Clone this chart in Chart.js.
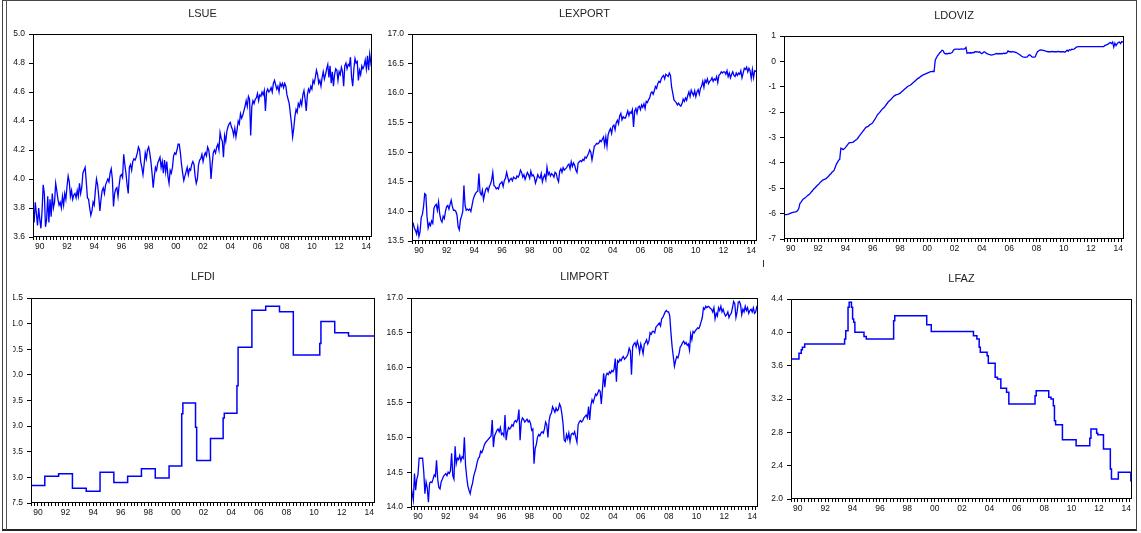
<!DOCTYPE html>
<html>
<head>
<meta charset="utf-8">
<script src="https://cdn.jsdelivr.net/npm/chart.js@4.4.1/dist/chart.umd.min.js"></script>
<style>
  body { margin: 0; background: #fff; }
  #page { position: relative; width: 1141px; height: 533px; overflow: hidden; background: #fff; }
  #page canvas { position: absolute; }
  .frame { position: absolute; left: 2px; top: 0; width: 1133px; height: 528px; border: 1px solid #444; border-bottom: 2px solid #222; }
  .inner { position: absolute; left: 6px; top: 0; width: 1px; height: 530px; background: #555; }
  .mark { position: absolute; left: 763px; top: 260px; width: 1px; height: 7px; background: #333; }
</style>
</head>
<body>
<div id="page">
  <div class="frame"></div>
  <div class="inner"></div>
  <div class="mark"></div>
  <canvas id="cLSUE"></canvas>
  <canvas id="cLEXPORT"></canvas>
  <canvas id="cLDOVIZ"></canvas>
  <canvas id="cLFDI"></canvas>
  <canvas id="cLIMPORT"></canvas>
  <canvas id="cLFAZ"></canvas>
</div>
<script>
// monthly series, 1990M01 - 2014M12
var startYear = 1990;

var lsue = [
  3.82, 3.70, 3.84, 3.76, 3.68, 3.80, 3.72, 3.66, 3.78, 3.96, 3.90, 3.67,
  3.72, 3.88, 3.70, 3.86, 3.74, 3.90, 3.80, 3.84, 3.97, 3.92, 3.86, 3.82,
  3.84, 3.80, 3.88, 3.82, 3.90, 3.86, 3.95, 4.02, 3.98, 3.88, 3.92, 3.86, 3.89,
  3.90, 3.87, 3.92, 3.88, 3.97, 3.90, 3.94, 4.04, 4.06, 4.08, 3.98, 3.87,
  3.86, 3.80, 3.75, 3.78, 3.84, 3.82, 3.92, 4.00, 3.96, 3.88, 3.78, 3.86,
  3.92, 3.94, 3.90, 3.96, 3.98, 4.00, 3.98, 4.04, 4.07, 4.00, 3.81, 3.90, 3.93,
  3.94, 3.88, 3.96, 4.02, 4.03, 4.01, 4.17, 4.10, 4.04, 3.96, 3.90, 4.08,
  4.10, 4.06, 4.12, 4.14, 4.13, 4.15, 4.18, 4.22, 4.20, 4.12, 4.08, 4.03,
  4.10, 4.18, 4.14, 4.20, 4.22, 4.18, 4.12, 4.04, 3.94, 4.02, 4.08, 4.06, 4.11,
  4.13, 4.15, 4.08, 4.12, 4.04, 4.13, 4.05, 4.12, 4.02, 3.97, 4.06, 4.04,
  4.08, 4.16, 4.18, 4.17, 4.20, 4.24, 4.24, 4.18, 4.10, 4.04, 3.99, 4.02,
  4.05, 4.08, 4.03, 4.07, 4.06, 4.10, 4.12, 4.10, 4.02, 3.97, 4.00, 4.10, 4.13,
  4.14, 4.17, 4.12, 4.16, 4.18, 4.16, 4.22, 4.20, 4.14, 4.00, 4.10, 4.18,
  4.20, 4.18, 4.22, 4.24, 4.20, 4.32, 4.28, 4.26, 4.15, 4.30, 4.26, 4.33,
  4.36, 4.38, 4.39, 4.36, 4.34, 4.30, 4.35, 4.29, 4.34, 4.40, 4.38, 4.45, 4.42,
  4.44, 4.47, 4.50, 4.54, 4.50, 4.57, 4.55, 4.30, 4.50, 4.54, 4.52, 4.55,
  4.56, 4.59, 4.54, 4.58, 4.57, 4.60, 4.58, 4.61, 4.47, 4.60, 4.62, 4.60,
  4.61, 4.63, 4.60, 4.66, 4.68, 4.65, 4.62, 4.64, 4.60, 4.66, 4.64, 4.66, 4.63,
  4.66, 4.64, 4.58, 4.55, 4.52, 4.45, 4.38, 4.29, 4.35, 4.43, 4.48, 4.46,
  4.52, 4.50, 4.54, 4.51, 4.58, 4.61, 4.55, 4.47, 4.58, 4.62, 4.60, 4.64,
  4.62, 4.68, 4.66, 4.70, 4.75, 4.72, 4.66, 4.68, 4.64, 4.70, 4.74, 4.69, 4.72,
  4.76, 4.79, 4.70, 4.78, 4.66, 4.74, 4.64, 4.72, 4.76, 4.75, 4.68, 4.74,
  4.72, 4.77, 4.74, 4.64, 4.78, 4.80, 4.76, 4.79, 4.78, 4.84, 4.70, 4.64,
  4.76, 4.83, 4.80, 4.81, 4.68, 4.75, 4.72, 4.78, 4.76, 4.78, 4.82, 4.76,
  4.85, 4.75, 4.86, 4.80, 4.84
];

var lexport = [
  13.83, 13.80, 13.72, 13.68, 13.62, 13.74, 13.58, 13.66, 13.90, 13.95, 14.08, 14.30,
  14.28, 13.92, 13.72, 13.80, 13.76, 13.84, 13.80, 14.05, 14.10, 14.12, 14.02, 14.16,
  13.96, 13.86, 13.82, 13.92, 13.88, 14.00, 14.08, 14.10, 14.04, 14.12, 14.19, 14.08, 14.02,
  14.02, 14.00, 13.94, 13.74, 13.69, 13.86, 13.92, 14.00, 14.44, 14.10, 14.02, 14.04,
  14.02, 14.04, 14.00, 14.10, 14.20, 14.26, 14.30, 14.33, 14.34, 14.64, 14.32, 14.28,
  14.36, 14.20, 14.30, 14.38, 14.40, 14.34, 14.42, 14.46, 14.53, 14.66, 14.44, 14.42, 14.38,
  14.40, 14.38, 14.46, 14.48, 14.50, 14.42, 14.52, 14.56, 14.66, 14.58, 14.50, 14.54,
  14.56, 14.52, 14.58, 14.56, 14.55, 14.60, 14.58, 14.62, 14.70, 14.66, 14.58, 14.62,
  14.54, 14.60, 14.66, 14.62, 14.56, 14.68, 14.60, 14.62, 14.58, 14.48, 14.54, 14.62, 14.58,
  14.56, 14.64, 14.50, 14.58, 14.62, 14.54, 14.75, 14.62, 14.66, 14.60, 14.64, 14.62,
  14.58, 14.66, 14.64, 14.55, 14.50, 14.68, 14.72, 14.66, 14.74, 14.70, 14.72, 14.74,
  14.78, 14.80, 14.72, 14.84, 14.76, 14.82, 14.78, 14.70, 14.66, 14.82, 14.84, 14.86, 14.84,
  14.88, 14.86, 14.92, 14.90, 14.94, 14.98, 15.04, 15.00, 14.87, 14.98, 15.10, 15.12,
  15.15, 15.14, 15.16, 15.20, 15.18, 15.22, 15.26, 15.12, 15.26, 15.10, 15.30, 15.36,
  15.40, 15.32, 15.44, 15.46, 15.38, 15.50, 15.54, 15.48, 15.62, 15.66, 15.55, 15.60, 15.58,
  15.58, 15.64, 15.70, 15.62, 15.68, 15.66, 15.72, 15.43, 15.70, 15.74, 15.66, 15.76,
  15.78, 15.72, 15.80, 15.76, 15.82, 15.74, 15.86, 15.84, 15.89, 15.92, 16.00, 16.02,
  15.98, 16.04, 16.11, 16.08, 16.16, 16.20, 16.18, 16.24, 16.28, 16.30, 16.24, 16.32, 16.30,
  16.28, 16.34, 16.30, 16.10, 16.00, 15.89, 15.86, 15.84, 15.80, 15.83, 15.80, 15.78,
  15.82, 15.90, 15.86, 15.92, 15.88, 15.96, 16.02, 15.94, 16.05, 16.00, 15.96, 16.04,
  15.94, 16.02, 16.06, 15.98, 16.08, 16.12, 16.20, 16.10, 16.22, 16.18, 16.24, 16.16, 16.20,
  16.22, 16.26, 16.20, 16.24, 16.22, 16.28, 16.18, 16.30, 16.32, 16.36, 16.34, 16.36,
  16.36, 16.32, 16.38, 16.28, 16.34, 16.26, 16.32, 16.36, 16.30, 16.28, 16.34, 16.30,
  16.34, 16.32, 16.38, 16.26, 16.34, 16.42, 16.40, 16.44, 16.36, 16.42, 16.38, 16.25,
  16.40, 16.26, 16.38, 16.37, 16.37
];

var ldoviz = [
  -6.05, -6.04, -6.04, -6.03, -6.02, -6.00, -5.98, -5.96, -5.95, -5.94, -5.93, -5.92,
  -5.88, -5.80, -5.60, -5.55, -5.48, -5.42, -5.40, -5.36, -5.32, -5.28, -5.25, -5.20,
  -5.15, -5.10, -5.04, -5.00, -4.95, -4.90, -4.86, -4.82, -4.76, -4.72, -4.68, -4.66, -4.64,
  -4.62, -4.58, -4.54, -4.48, -4.44, -4.38, -4.34, -4.30, -4.18, -4.06, -3.98, -3.90,
  -3.86, -3.42, -3.44, -3.48, -3.44, -3.40, -3.34, -3.28, -3.22, -3.20, -3.20, -3.19,
  -3.18, -3.14, -3.10, -3.08, -3.02, -2.96, -2.90, -2.84, -2.78, -2.72, -2.66, -2.60, -2.58,
  -2.56, -2.52, -2.48, -2.46, -2.42, -2.34, -2.28, -2.20, -2.12, -2.06, -2.02, -1.96,
  -1.90, -1.86, -1.82, -1.76, -1.70, -1.64, -1.58, -1.54, -1.50, -1.45, -1.40, -1.36,
  -1.33, -1.31, -1.30, -1.28, -1.26, -1.22, -1.18, -1.14, -1.10, -1.06, -1.02, -0.98, -0.96,
  -0.94, -0.90, -0.86, -0.82, -0.78, -0.74, -0.70, -0.67, -0.64, -0.60, -0.57, -0.54,
  -0.52, -0.50, -0.48, -0.46, -0.44, -0.42, -0.40, -0.40, -0.39, -0.40, 0.05, 0.14,
  0.22, 0.28, 0.34, 0.38, 0.44, 0.42, 0.32, 0.30, 0.31, 0.30, 0.32, 0.31, 0.33,
  0.36, 0.44, 0.47, 0.48, 0.48, 0.48, 0.47, 0.48, 0.49, 0.48, 0.48, 0.50,
  0.55, 0.32, 0.34, 0.33, 0.34, 0.33, 0.35, 0.34, 0.38, 0.38, 0.37, 0.36,
  0.38, 0.33, 0.30, 0.34, 0.38, 0.36, 0.31, 0.30, 0.28, 0.27, 0.25, 0.26, 0.27,
  0.28, 0.30, 0.31, 0.30, 0.31, 0.30, 0.31, 0.30, 0.32, 0.31, 0.32, 0.33,
  0.42, 0.38, 0.38, 0.37, 0.38, 0.37, 0.36, 0.35, 0.33, 0.30, 0.27, 0.24,
  0.20, 0.18, 0.17, 0.16, 0.17, 0.18, 0.24, 0.26, 0.22, 0.18, 0.17, 0.17, 0.18,
  0.30, 0.38, 0.42, 0.44, 0.45, 0.44, 0.43, 0.42, 0.40, 0.39, 0.38, 0.38,
  0.38, 0.38, 0.39, 0.38, 0.38, 0.38, 0.38, 0.39, 0.38, 0.38, 0.37, 0.38,
  0.38, 0.36, 0.40, 0.44, 0.40, 0.46, 0.44, 0.48, 0.47, 0.48, 0.52, 0.56, 0.57,
  0.58, 0.58, 0.58, 0.58, 0.58, 0.58, 0.58, 0.58, 0.58, 0.58, 0.58, 0.58,
  0.58, 0.58, 0.58, 0.58, 0.58, 0.58, 0.58, 0.58, 0.58, 0.58, 0.58, 0.62,
  0.64, 0.66, 0.68, 0.72, 0.74, 0.70, 0.76, 0.56, 0.72, 0.62, 0.70, 0.74,
  0.76, 0.70, 0.78, 0.76, 0.79
];

var limport = [
  14.30, 14.20, 14.10, 14.48, 14.24, 14.40, 14.46, 14.70, 14.70, 14.70, 14.70, 14.50,
  14.19, 14.36, 14.28, 14.07, 14.34, 14.36, 14.35, 14.40, 14.46, 14.44, 14.67, 14.40,
  14.28, 14.26, 14.36, 14.40, 14.44, 14.46, 14.48, 14.45, 14.50, 14.48, 14.52, 14.77, 14.45,
  14.40, 14.87, 14.62, 14.70, 14.68, 14.74, 14.66, 14.72, 14.70, 15.00, 14.60, 14.43,
  14.30, 14.24, 14.19, 14.28, 14.34, 14.44, 14.50, 14.56, 14.64, 14.70, 14.72, 14.80,
  14.78, 14.82, 14.88, 14.92, 14.94, 14.96, 14.98, 15.00, 15.02, 15.25, 14.86, 15.02, 15.06,
  15.10, 15.12, 15.08, 15.14, 15.04, 15.06, 15.02, 15.32, 14.96, 15.08, 15.14, 15.12,
  15.14, 15.18, 15.16, 15.22, 15.24, 15.22, 15.26, 15.40, 14.96, 15.22, 15.28, 15.26,
  15.22, 15.24, 15.26, 15.22, 15.24, 15.20, 15.10, 15.12, 14.62, 14.84, 14.90, 15.00, 15.04,
  15.02, 15.06, 15.08, 15.06, 15.12, 15.22, 15.18, 15.00, 15.24, 15.32, 15.35, 15.44,
  15.40, 15.36, 15.42, 15.38, 15.40, 15.48, 15.44, 15.34, 15.20, 14.96, 14.94, 15.04,
  14.98, 15.06, 14.94, 15.04, 15.06, 15.04, 15.08, 15.00, 14.93, 15.18, 15.22, 15.24, 15.22,
  15.24, 15.28, 15.30, 15.32, 15.28, 15.44, 15.25, 15.46, 15.54, 15.50, 15.56, 15.62,
  15.60, 15.64, 15.68, 15.66, 15.48, 15.70, 15.92, 15.72, 15.88, 15.92, 15.90, 15.94,
  15.92, 15.96, 15.94, 15.98, 16.13, 15.80, 16.10, 16.08, 16.12, 16.10, 16.14, 16.16, 16.12,
  16.14, 16.16, 16.20, 16.28, 16.24, 15.90, 16.30, 16.34, 16.36, 16.30, 16.38, 16.32,
  16.22, 16.34, 16.28, 16.20, 16.34, 16.36, 16.40, 16.34, 16.38, 16.50, 16.48, 16.52,
  16.52, 16.50, 16.58, 16.60, 16.62, 16.64, 16.60, 16.70, 16.72, 16.76, 16.80, 16.82, 16.80,
  16.80, 16.74, 16.50, 16.30, 16.16, 16.02, 16.10, 16.16, 16.14, 16.20, 16.30, 16.32,
  16.36, 16.38, 16.34, 16.36, 16.32, 16.34, 16.25, 16.48, 16.40, 16.52, 16.50, 16.53,
  16.55, 16.57, 16.56, 16.60, 16.66, 16.72, 16.86, 16.84, 16.88, 16.86, 16.88, 16.87, 16.85,
  16.84, 16.80, 16.86, 16.70, 16.78, 16.74, 16.86, 16.82, 16.88, 16.80, 16.84, 16.78,
  16.74, 16.76, 16.80, 16.72, 16.76, 16.78, 16.86, 16.95, 16.92, 16.72, 16.80, 16.94,
  16.95, 16.90, 16.76, 16.84, 16.80, 16.88, 16.82, 16.86, 16.78, 16.82, 16.84, 16.80,
  16.86, 16.78, 16.80, 16.88, 16.88
];

// step series: dates where a new level starts, and the level
var fdiDates = [1990, 1991, 1992, 1993, 1994, 1995, 1996, 1997, 1998, 1999, 2000, 2000.917, 2001,
  2001.917, 2002, 2003, 2003.917, 2004, 2004.917, 2005, 2006, 2007, 2008, 2009, 2010.917, 2011,
  2012, 2013, 2014.917];
var fdiValues = [17.84, 18.02, 18.07, 17.79, 17.73, 18.10, 17.90, 18.02, 18.17, 17.99, 18.22, 19.24, 19.45,
  18.98, 18.33, 18.76, 19.16, 19.25, 19.79, 20.54, 21.26, 21.34, 21.23, 20.39, 20.61, 21.04,
  20.82, 20.76, 20.76];

var fazDates = [1990, 1990.583, 1990.75, 1990.833, 1991, 1993.917, 1994, 1994.167, 1994.25, 1994.417,
  1994.5, 1994.583, 1994.667, 1995.333, 1995.5, 1997.5, 1997.583, 1999.917, 2000.25, 2003.333,
  2003.583, 2003.75, 2003.833, 2004.333, 2004.417, 2004.917, 2005.083, 2005.333, 2005.75, 2005.917,
  2007.833, 2007.917, 2008.833, 2009, 2009.167, 2009.25, 2009.333, 2009.833, 2010.833, 2011.833,
  2011.917, 2012.333, 2012.417, 2012.833, 2013.333, 2013.417, 2013.917, 2014.833, 2014.917];
var fazValues = [3.68, 3.75, 3.79, 3.82, 3.86, 3.92, 4.02, 4.30, 4.36, 4.30,
  4.16, 4.12, 4.00, 3.95, 3.92, 4.14, 4.20, 4.09, 4.01, 3.96,
  3.92, 3.82, 3.76, 3.72, 3.63, 3.46, 3.44, 3.33, 3.28, 3.14,
  3.24, 3.30, 3.22, 3.20, 3.12, 2.94, 2.89, 2.71, 2.64, 2.73,
  2.84, 2.79, 2.77, 2.60, 2.36, 2.24, 2.32, 2.22, 2.22];

// tick labels
var yearLabels = ['90', '92', '94', '96', '98', '00', '02', '04', '06', '08', '10', '12', '14'];
var labelYears = [1990, 1992, 1994, 1996, 1998, 2000, 2002, 2004, 2006, 2008, 2010, 2012, 2014];
var lsueTicks = [3.6, 3.8, 4.0, 4.2, 4.4, 4.6, 4.8, 5.0];
var lexportTicks = [13.5, 14.0, 14.5, 15.0, 15.5, 16.0, 16.5, 17.0];
var ldovizTicks = [-7, -6, -5, -4, -3, -2, -1, 0, 1];
var lfdiTicks = [17.5, 18.0, 18.5, 19.0, 19.5, 20.0, 20.5, 21.0, 21.5];
var limportTicks = [14.0, 14.5, 15.0, 15.5, 16.0, 16.5, 17.0];
var lfazTicks = [2.0, 2.4, 2.8, 3.2, 3.6, 4.0, 4.4];

var lastX = startYear + 299 / 12;

// small ticks every quarter on the date axis
var quarterTicks = [];
for (var q = 0; startYear + q / 4 <= lastX; q++) {
  quarterTicks.push(startYear + q / 4);
}

function monthly(values) {
  return values.map(function(v, i) { return { x: startYear + i / 12, y: v }; });
}

function steps(dates, values) {
  return dates.map(function(d, i) { return { x: d, y: values[i] }; });
}

function yearLabel(value) {
  for (var k = 0; k < labelYears.length; k++) {
    if (Math.abs(value - (labelYears[k] + 0.5)) < 0.01) return yearLabels[k];
  }
  return '';
}

// black box around the plot area
var framePlugin = {
  id: 'frame',
  afterDraw: function(chart) {
    var a = chart.chartArea;
    var ctx = chart.ctx;
    ctx.save();
    ctx.strokeStyle = '#000';
    ctx.lineWidth = 1;
    ctx.strokeRect(Math.round(a.left) + 0.5, Math.round(a.top) + 0.5,
      Math.round(a.right - a.left) - 1, Math.round(a.bottom - a.top) - 1);
    ctx.restore();
  }
};

var tickFont = { family: 'Liberation Sans', size: 8.5 };

function makePanel(canvasId, title, box, points, yTicks, decimals, lineWidth, stepped) {
  var canvasTop = box.top < 200 ? 0 : 258;
  var canvas = document.getElementById(canvasId);
  canvas.width = box.right + 6 - box.canvasLeft;
  canvas.height = box.bottom + 22 - canvasTop;
  canvas.style.left = box.canvasLeft + 'px';
  canvas.style.top = canvasTop + 'px';

  var padTop = box.titleY - canvasTop - 6.6;
  var padBottom = box.top - canvasTop - padTop - 13.2;

  new Chart(canvas.getContext('2d'), {
    type: 'line',
    data: {
      datasets: [{
        data: points,
        borderColor: '#0000ff',
        borderWidth: lineWidth,
        pointRadius: 0,
        tension: 0,
        stepped: stepped
      }]
    },
    options: {
      responsive: false,
      animation: false,
      devicePixelRatio: 1,
      layout: { padding: { left: 0, right: 6, top: 0, bottom: 0 } },
      plugins: {
        legend: { display: false },
        tooltip: { enabled: false },
        title: {
          display: true,
          text: title,
          fullSize: false,
          color: '#222',
          font: { family: 'Liberation Sans', size: 11, weight: 'normal' },
          padding: { top: padTop, bottom: padBottom }
        }
      },
      scales: {
        x: {
          type: 'linear',
          min: startYear,
          max: lastX,
          afterBuildTicks: function(scale) {
            scale.ticks = quarterTicks.map(function(v) { return { value: v }; });
          },
          afterFit: function(scale) { scale.height = 22; },
          ticks: {
            autoSkip: false,
            maxRotation: 0,
            padding: 2,
            color: '#111',
            font: tickFont,
            callback: function(value) { return yearLabel(value); }
          },
          grid: { drawOnChartArea: false, drawTicks: true, tickLength: 3, color: '#000' },
          border: { display: false }
        },
        y: {
          min: yTicks[0],
          max: yTicks[yTicks.length - 1],
          afterBuildTicks: function(scale) {
            scale.ticks = yTicks.map(function(v) { return { value: v }; });
          },
          afterFit: function(scale) { scale.width = box.left - box.canvasLeft; },
          ticks: {
            padding: 4,
            color: '#111',
            font: tickFont,
            callback: function(value) { return value.toFixed(decimals); }
          },
          grid: { drawOnChartArea: false, drawTicks: true, tickLength: 4, color: '#000' },
          border: { display: false }
        }
      }
    },
    plugins: [framePlugin]
  });
}

makePanel('cLSUE', 'LSUE', { left: 33, top: 34, right: 372, bottom: 237, titleY: 14, canvasLeft: 0 },
  monthly(lsue), lsueTicks, 1, 1.3, false);
makePanel('cLEXPORT', 'LEXPORT', { left: 412, top: 34, right: 757, bottom: 241, titleY: 14, canvasLeft: 378 },
  monthly(lexport), lexportTicks, 1, 1.3, false);
makePanel('cLDOVIZ', 'LDOVIZ', { left: 784, top: 36, right: 1124, bottom: 239, titleY: 16, canvasLeft: 760 },
  monthly(ldoviz), ldovizTicks, 0, 1.3, false);
makePanel('cLFDI', 'LFDI', { left: 31, top: 298, right: 375, bottom: 503, titleY: 277, canvasLeft: 13 },
  steps(fdiDates, fdiValues), lfdiTicks, 1, 1.5, 'before');
makePanel('cLIMPORT', 'LIMPORT', { left: 411, top: 298, right: 758, bottom: 507, titleY: 277, canvasLeft: 377 },
  monthly(limport), limportTicks, 1, 1.3, false);
makePanel('cLFAZ', 'LFAZ', { left: 791, top: 299, right: 1132, bottom: 499, titleY: 279, canvasLeft: 765 },
  steps(fazDates, fazValues), lfazTicks, 1, 1.5, 'before');
</script>
</body>
</html>
